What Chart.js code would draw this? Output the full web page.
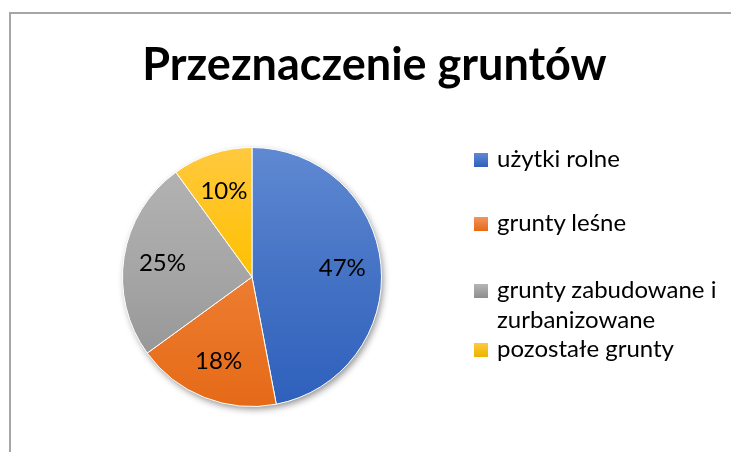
<!DOCTYPE html>
<html><head><meta charset="utf-8">
<script src="https://cdn.jsdelivr.net/npm/chart.js@4/dist/chart.umd.min.js"></script>
<style>
html,body{margin:0;padding:0;background:#fff;width:731px;height:452px;overflow:hidden;font-family:Lato,sans-serif;}
#frame{position:absolute;left:9px;top:12px;width:740px;height:460px;border-top:2px solid #a6a6a6;border-left:2px solid #a6a6a6;box-sizing:border-box;}
#wrap{position:absolute;left:0;top:0;width:731px;height:452px;}
#title{position:absolute;left:0;width:731px;top:35px;text-align:center;padding-left:18px;box-sizing:border-box;font-weight:bold;font-size:45px;color:#000;line-height:56px;white-space:nowrap;}
.li{position:absolute;left:474px;width:250px;font-size:24px;line-height:30px;color:#000;}
.li .sw{position:absolute;left:0;top:10px;width:14px;height:14px;}
.li .tx{margin-left:23px;display:block;}
</style></head>
<body>
<div id="frame"></div>
<div id="wrap"><canvas id="c" width="731" height="452"></canvas></div>
<div id="title"></div>
<div id="legend"></div>
<script>
const titleText = "Przeznaczenie gruntów";
const categories = ["użytki rolne", "grunty leśne", "grunty zabudowane i zurbanizowane", "pozostałe grunty"];
const values = [47, 18, 25, 10];
const percentLabels = ["47%", "18%", "25%", "10%"];
const legendTops = [143, 207, 274, 333];
const colorsTop = ["#6089D2", "#F2955C", "#B5B5B5", "#FFC93F"];
const colorsMid = ["#4472C4", "#ED7D31", "#A5A5A5", "#FFC000"];
const colorsBottom = ["#2E60BC", "#E56A17", "#8E8E8E", "#EAB400"];

document.getElementById('title').textContent = titleText;
const lg = document.getElementById('legend');
categories.forEach((c,i)=>{
  const d=document.createElement('div'); d.className='li'; d.style.top=legendTops[i]+'px';
  const s=document.createElement('span'); s.className='sw';
  s.style.background='linear-gradient('+colorsTop[i]+','+colorsBottom[i]+')';
  const t=document.createElement('span'); t.className='tx'; t.textContent=c;
  d.appendChild(s); d.appendChild(t); lg.appendChild(d);
});

function grad(ctx, area, i){
  const g = ctx.createLinearGradient(0, area.top, 0, area.bottom);
  g.addColorStop(0, colorsTop[i]); g.addColorStop(0.5, colorsMid[i]); g.addColorStop(1, colorsBottom[i]);
  return g;
}

const shadowPlugin = {
  id:'shadow',
  beforeDatasetsDraw(chart){
    const a = chart.getDatasetMeta(0).data[0]; if(!a) return;
    const ctx = chart.ctx; ctx.save();
    ctx.shadowColor='rgba(0,0,0,0.45)'; ctx.shadowBlur=7; ctx.shadowOffsetX=2; ctx.shadowOffsetY=3;
    ctx.beginPath(); ctx.arc(a.x, a.y, a.outerRadius-0.5, 0, Math.PI*2); ctx.fillStyle='#fff'; ctx.fill();
    ctx.restore();
  }
};
const labelPlugin = {
  id:'pctLabels',
  afterDatasetsDraw(chart){
    const ctx = chart.ctx; ctx.save();
    ctx.font = '24px Lato, sans-serif'; ctx.fillStyle='#000'; ctx.textAlign='center'; ctx.textBaseline='middle';
    chart.getDatasetMeta(0).data.forEach((arc,i)=>{
      const mid=(arc.startAngle+arc.endAngle)/2; const r=arc.outerRadius*0.7;
      ctx.fillText(percentLabels[i], arc.x+Math.cos(mid)*r, arc.y+Math.sin(mid)*r);
    });
    ctx.restore();
  }
};

new Chart(document.getElementById('c'), {
  type:'pie',
  data:{labels:categories, datasets:[{data:values,
    backgroundColor:(c)=>{const ch=c.chart; if(!ch.chartArea) return colorsMid[c.dataIndex]; return grad(ch.ctx, ch.chartArea, c.dataIndex);},
    borderColor:'#ffffff', borderWidth:1}]},
  options:{responsive:false, animation:false, devicePixelRatio:1,
    layout:{padding:{left:122,right:349,top:147,bottom:45}},
    plugins:{legend:{display:false}, tooltip:{enabled:false}, title:{display:false}}},
  plugins:[shadowPlugin, labelPlugin]
});
</script>
</body></html>
